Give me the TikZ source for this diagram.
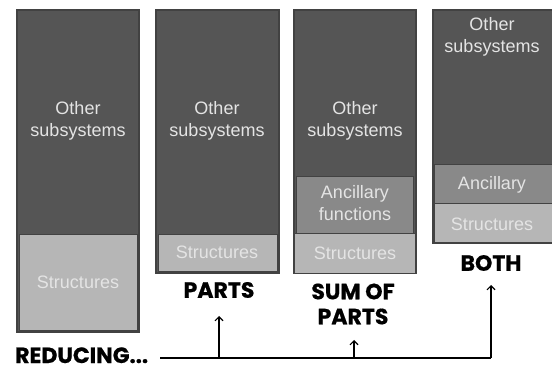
\documentclass[tikz,border=0pt]{standalone}
\usepackage{fontspec}
\setmainfont{Liberation Sans}
\newfontfamily\headfont[BoldFeatures={FakeBold=0.7}]{Poppins}
\usetikzlibrary{arrows.meta}
\definecolor{stackdark}{HTML}{555555}
\definecolor{stackedge}{HTML}{424242}
\definecolor{structgray}{HTML}{B6B6B6}
\definecolor{ancgray}{HTML}{898989}
\definecolor{boxtext}{HTML}{E4E4E4}
\tikzset{
  stack/.style={fill=stackdark, draw=stackedge, line width=1.2pt},
  part/.style={draw=stackedge, line width=0.8pt},
  boxlabel/.style={text=boxtext, font=\fontsize{18}{22}\selectfont, align=center, inner sep=0pt},
  headlabel/.style={font=\headfont\bfseries\fontsize{22}{25}\selectfont, align=center, inner sep=0pt},
  link/.style={line width=1.1pt, black},
  uparrow/.style={link, -{Straight Barb[length=4pt,width=8pt,line width=1.1pt]}}
}
\begin{document}
\begin{tikzpicture}[x=1pt,y=-1pt]
\useasboundingbox (0,0) rectangle (552,366);
\begin{scope}
\clip (0,0) rectangle (552,366);
% stack 1: the baseline split
\draw[stack] (17,10) rectangle (139,332);
\draw[part, fill=structgray] (19,234) rectangle (137,330);
\node[boxlabel] (o1) at (78,121) {Other\\subsystems};
\node[boxlabel] (s1) at (78,282) {Structures};
% stack 2: smaller structures
\draw[stack] (156,10) rectangle (279,273);
\draw[part, fill=structgray] (158,234) rectangle (277,271);
\node[boxlabel] (o2) at (217,121) {Other\\subsystems};
\node[boxlabel] (s2) at (217,252) {Structures};
% stack 3: structures plus ancillary functions
\draw[stack] (294,10) rectangle (416,273);
\draw[part, fill=ancgray] (296,176) rectangle (413,233);
\draw[part, fill=structgray] (294,233) rectangle (415,273);
\node[boxlabel] (o3) at (355,121) {Other\\subsystems};
\node[boxlabel] (a3) at (355,203) {Ancillary\\functions};
\node[boxlabel] (s3) at (355,253) {Structures};
% stack 4: both reduced
\draw[stack] (433,10) rectangle (555,243);
\draw[part, fill=ancgray] (434,164) rectangle (553,203);
\draw[part, fill=structgray] (434,203) rectangle (553,242);
\node[boxlabel] (o4) at (492,37) {Other\\subsystems};
\node[boxlabel] (a4) at (492,185) {Ancillary};
\node[boxlabel] (s4) at (492,224) {Structures};
\end{scope}
% headings
\node[headlabel] (parts) at (219,290) {PARTS};
\node[headlabel] (sum) at (353,304) {SUM OF\\PARTS};
\node[headlabel] (both) at (491,263) {BOTH};
\node[headlabel, anchor=base west] (reducing) at (15,363) {REDUCING...};
% connectors
\coordinate (start) at (160,358);
\coordinate (corner) at (491,358);
\coordinate (tipparts) at (219,316);
\coordinate (tipsum) at (354,340);
\coordinate (tipboth) at (491,285);
\draw[link] (start) -- (corner);
\draw[uparrow] (corner) -- (tipboth);
\draw[uparrow] (start -| tipparts) -- (tipparts);
\draw[uparrow] (start -| tipsum) -- (tipsum);
\end{tikzpicture}
\end{document}
